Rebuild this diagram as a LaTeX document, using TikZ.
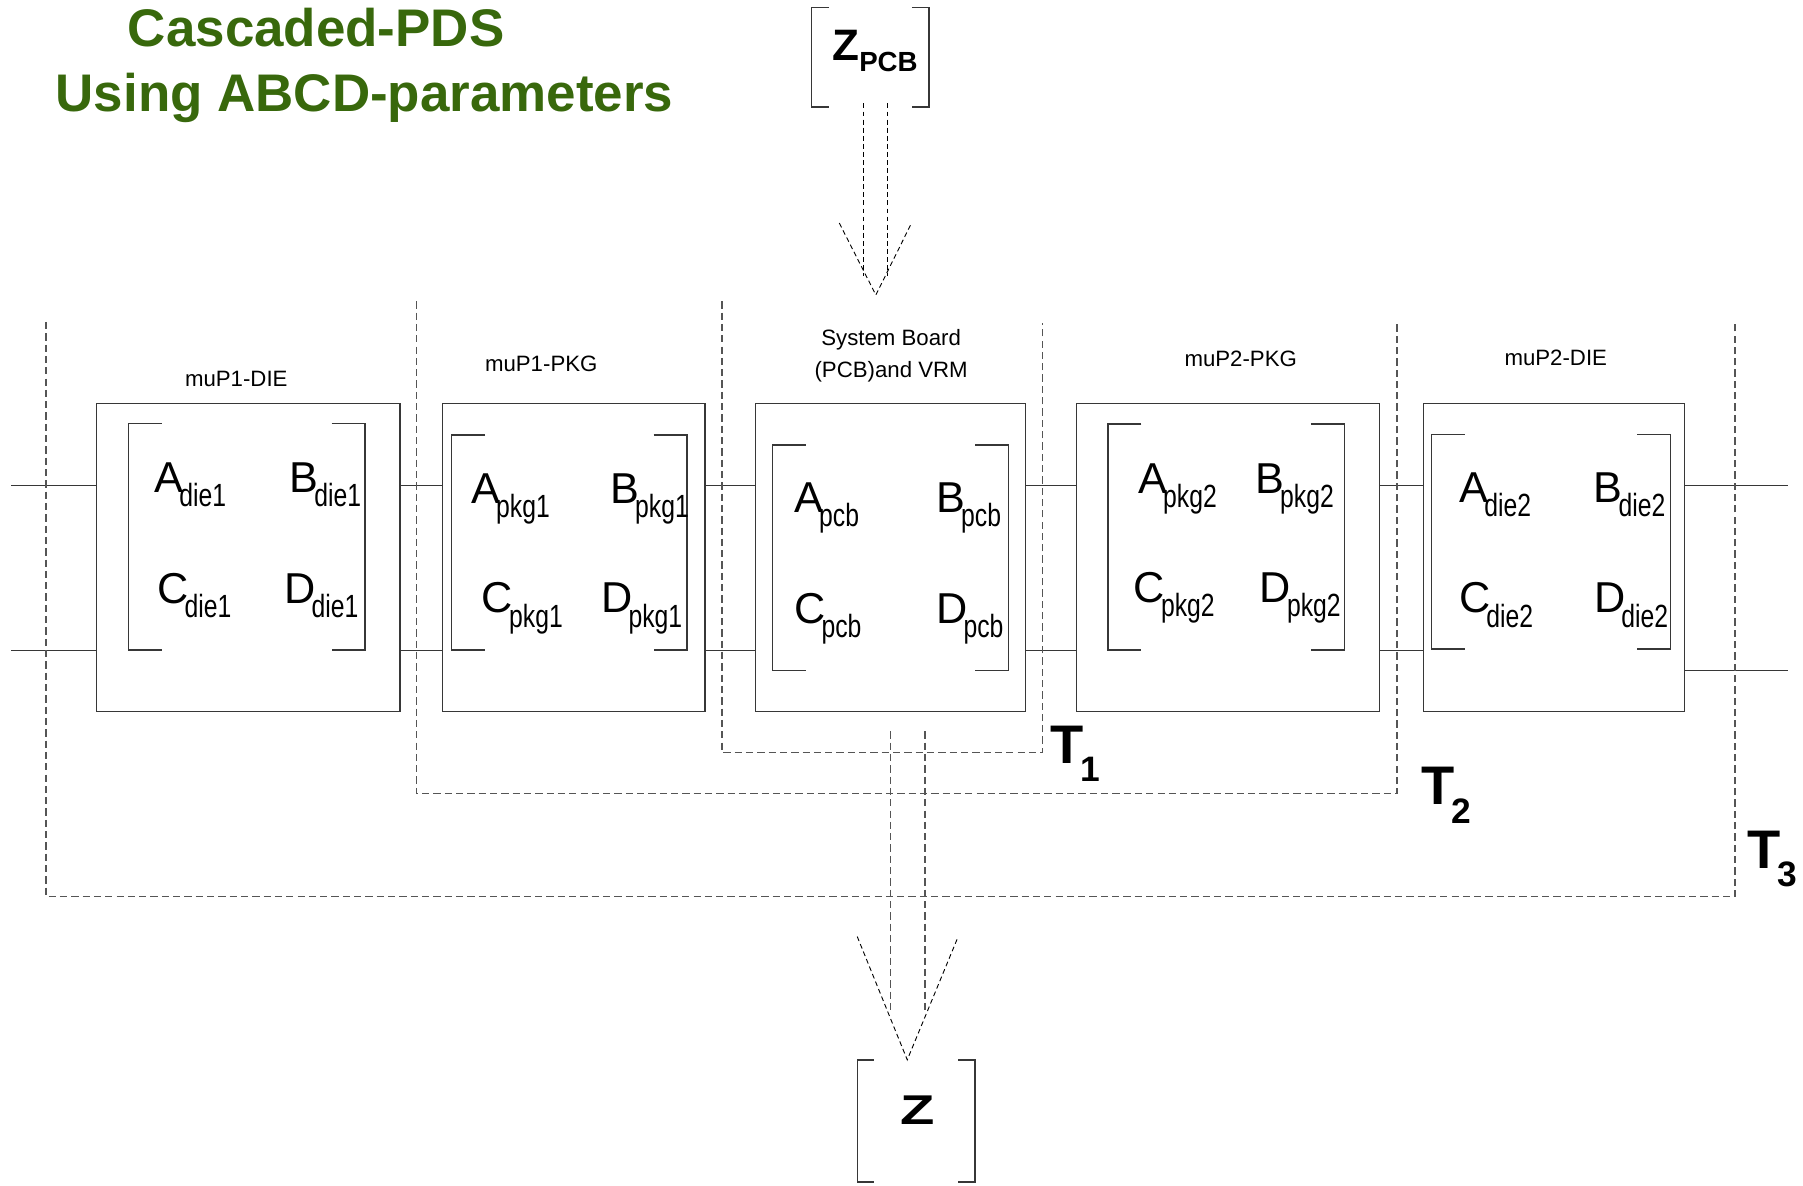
\documentclass[tikz,border=0pt]{standalone}
\usepackage{fontspec}
\setmainfont{Liberation Sans}
\newfontfamily\narrowsf[FakeStretch=0.77]{Liberation Sans}
\newfontfamily\widesf[FakeStretch=1.35]{Liberation Sans}
\usetikzlibrary{positioning}
\definecolor{titlegreen}{RGB}{56,104,12}
\definecolor{boxgray}{RGB}{55,55,55}
\definecolor{dashgray}{RGB}{85,85,85}
\tikzstyle{block} = [rectangle, draw=boxgray, line width=0.65pt, inner sep=0pt, outer sep=0pt, minimum height=5.36cm]
\tikzstyle{wire} = [draw=boxgray, line width=0.65pt]
\tikzstyle{brk} = [draw=boxgray, line width=0.65pt]
\tikzstyle{region} = [draw=dashgray, line width=0.7pt, dash pattern=on 3.6pt off 2pt]
\tikzstyle{flow} = [draw=black, line width=0.45pt, dash pattern=on 2.4pt off 1.6pt]
\tikzstyle{ent} = [anchor=base west, inner sep=0pt]
\tikzstyle{lab} = [anchor=base, inner sep=0pt, font=\fontsize{11}{15.9}\selectfont]
\tikzstyle{tlab} = [anchor=base west, inner sep=0pt, font=\bfseries\fontsize{26.9}{30}\selectfont]
\tikzstyle{ttl} = [anchor=base, inner sep=0pt, text=titlegreen, font=\bfseries\fontsize{26.2}{30}\selectfont]

% matrix entry: big letter with a tight subscript
\newcommand{\abcd}[2]{\fontsize{21.4}{24}\selectfont #1\kern-2pt\raisebox{-7pt}{\narrowsf\fontsize{15.9}{18}\selectfont #2}}
\newcommand{\tsub}[1]{T\kern-1.5pt\raisebox{-9pt}{\fontsize{17.5}{20}\selectfont #1}}
% square brackets: left x, top y, right x, bottom y, serif length
\newcommand{\mbrack}[5]{%
  \draw[brk] (#1+#5,#2) -- (#1,#2) -- (#1,#4) -- (#1+#5,#4);
  \draw[brk] (#3-#5,#2) -- (#3,#2) -- (#3,#4) -- (#3-#5,#4);}

\begin{document}
\begin{tikzpicture}[x=0.02cm, y=-0.02cm]
\useasboundingbox (0,0) rectangle (1568,1031);

\node (title1) [ttl] at (275,40.6) {Cascaded-PDS};
\node (title2) [ttl] at (317,97) {Using ABCD-parameters};

% the five blocks
\node (die1) [block, minimum width=5.28cm] at (216,485) {};
\node (pkg1) [block, minimum width=4.56cm] at (499,485) {};
\node (pcb)  [block, minimum width=4.70cm] at (774.5,485) {};
\node (pkg2) [block, minimum width=5.28cm] at (1068,485) {};
\node (die2) [block, minimum width=4.54cm] at (1351.5,485) {};

\node (die1lab) [lab] at (205.5,335.7) {muP1-DIE};
\node (pkg1lab) [lab] at (470.7,323.2) {muP1-PKG};
\node (pcblab)  [lab, align=center] at (775,328) {System Board\\(PCB)and VRM};
\node (pkg2lab) [lab] at (1079,318.8) {muP2-PKG};
\node (die2lab) [lab] at (1353,318) {muP2-DIE};

\mbrack{111.7}{368}{317.5}{565.2}{29}
\mbrack{392.9}{378.3}{597.5}{565.2}{29}
\mbrack{671.7}{387}{877.1}{583.2}{29}
\mbrack{963.7}{368.7}{1169.1}{565.2}{29}
\mbrack{1245}{377.8}{1453}{564.3}{29}

\foreach \m/\xa/\xb/\xc/\xd/\ya/\yc in {die1/134/251.5/136.5/247/428.5/524.5,
    pkg1/409.6/530.5/418.8/522.6/437.5/533, pcb/690.5/814/690.5/814/446/542,
    pkg2/989.6/1091.4/985.7/1095.3/429/524, die2/1269/1385.7/1268.6/1386/437/533}
{
  \node (A\m) [ent] at (\xa,\ya) {\abcd{A}{\m}};
  \node (B\m) [ent] at (\xb,\ya) {\abcd{B}{\m}};
  \node (C\m) [ent] at (\xc,\yc) {\abcd{C}{\m}};
  \node (D\m) [ent] at (\xd,\yc) {\abcd{D}{\m}};
}

% port wires
\coordinate (inA) at (10,422);
\coordinate (inB) at (10,566);
\coordinate (outA) at (1555,422);
\coordinate (outB) at (1555,583);
\draw[wire] (inA) -- (inA -| die1.west);
\draw[wire] (inB) -- (inB -| die1.west);
\foreach \a/\b in {die1/pkg1, pkg1/pcb, pcb/pkg2, pkg2/die2}
{
  \draw[wire] (\a.east |- inA) -- (\b.west |- inA);
  \draw[wire] (\a.east |- inB) -- (\b.west |- inB);
}
\draw[wire] (die2.east |- outA) -- (outA);
\draw[wire] (die2.east |- outB) -- (outB);

% cascaded sections
\draw[region] (628,262) |- (906.7,654.5) -- (906.7,281);
\draw[region] (362.2,262) |- (1215,690) -- (1215,281);
\draw[region] (40,280) |- (1509,779.5) -- (1509,279);
\node (t1lab) [tlab] at (913,664) {\tsub{1}};
\node (t2lab) [tlab] at (1236,700) {\tsub{2}};
\node (t3lab) [tlab] at (1519,755) {\tsub{3}};

% Z of the board going in
\node (zpcb) [anchor=base west, inner sep=0pt, font=\bfseries\fontsize{21.8}{24}\selectfont] at (723.5,52.2) {Z\raisebox{-5.7pt}{\fontsize{13.7}{16}\selectfont PCB}};
\mbrack{706}{6.4}{808}{93}{15}
\coordinate (tipa) at (761.7,256.5);
\draw[flow] (750.6,90) -- (750.6,240);
\draw[flow] (771.5,90) -- (771.5,240);
\draw[flow] (729.9,194) -- (tipa) -- (792.7,194);

% total Z coming out
\node (ztot) [anchor=base west, inner sep=0pt, font=\widesf\bfseries\fontsize{20.6}{24}\selectfont] at (783,978) {Z};
\mbrack{745.5}{921.7}{847.8}{1028}{14.5}
\coordinate (tipb) at (789,921.7);
\draw[region] (774.5,636) -- (774.5,881);
\draw[region] (804.3,636) -- (804.3,881);
\draw[flow] (745.5,814.5) -- (tipb) -- (833.3,814.5);

\end{tikzpicture}
\end{document}
